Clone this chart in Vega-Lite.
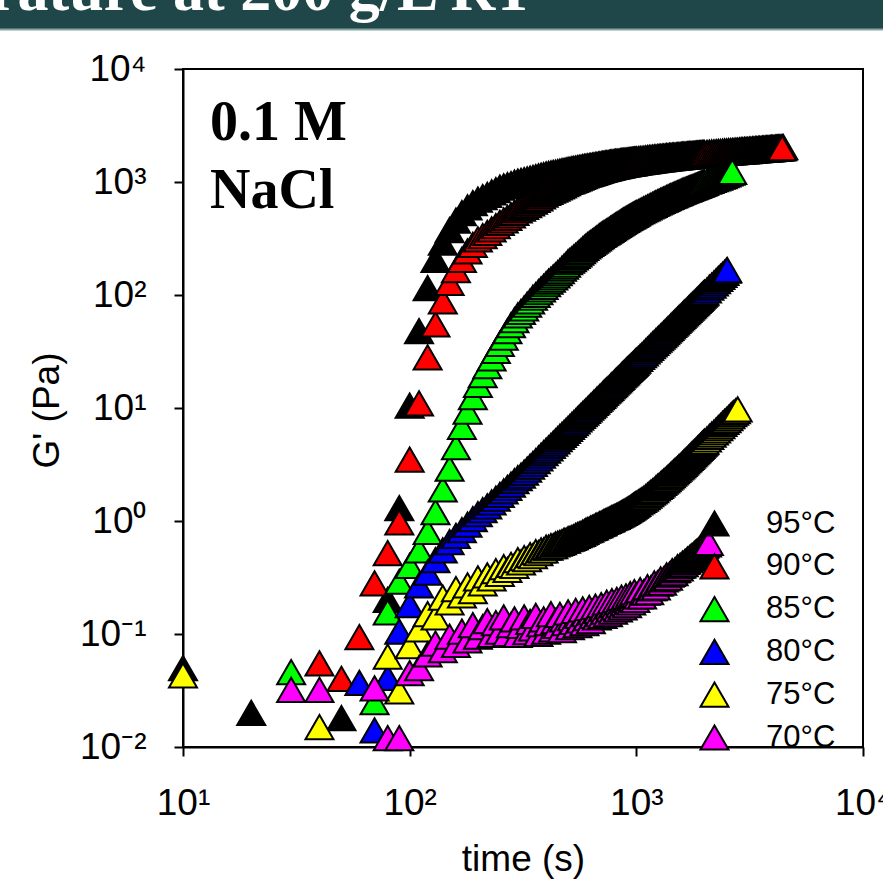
{
"$schema": "https://vega.github.io/schema/vega-lite/v6.json",
"autosize": {"type": "none"},
"padding": {"left": 183, "top": 69, "right": 20, "bottom": 135},
"width": 680,
"height": 678,
"background": "white",
"view": {"stroke": "black", "strokeWidth": 2, "fill": "white"},
"config": {"font": "Liberation Sans", "axis": {"labelFont": "Liberation Sans", "titleFont": "Liberation Sans"}},
"datasets": {
"c95": [{"t":10,"g":0.05},{"t":20,"g":0.02},{"t":50,"g":0.018},{"t":80,"g":0.2},{"t":90,"g":1.3},{"t":100,"g":10.5},{"t":110,"g":48},{"t":120,"g":115},{"t":130,"g":205},{"t":140,"g":290},{"t":150,"g":375},{"t":160,"g":455},{"t":170,"g":530},{"t":180,"g":595},{"t":190,"g":650},{"t":200,"g":700},{"t":210,"g":734},{"t":220,"g":770},{"t":230,"g":808},{"t":240,"g":848},{"t":250,"g":890},{"t":260,"g":913},{"t":270,"g":936},{"t":280,"g":960},{"t":290,"g":985},{"t":300,"g":1010},{"t":310,"g":1025},{"t":320,"g":1040},{"t":330,"g":1056},{"t":340,"g":1071},{"t":350,"g":1087},{"t":360,"g":1103},{"t":370,"g":1120},{"t":380,"g":1136},{"t":390,"g":1153},{"t":400,"g":1170},{"t":410,"g":1181},{"t":420,"g":1191},{"t":430,"g":1202},{"t":440,"g":1213},{"t":450,"g":1224},{"t":460,"g":1235},{"t":470,"g":1246},{"t":480,"g":1257},{"t":490,"g":1268},{"t":500,"g":1280},{"t":510,"g":1289},{"t":520,"g":1298},{"t":530,"g":1306},{"t":540,"g":1315},{"t":550,"g":1324},{"t":560,"g":1333},{"t":570,"g":1342},{"t":580,"g":1351},{"t":590,"g":1360},{"t":600,"g":1370},{"t":610,"g":1377},{"t":620,"g":1384},{"t":630,"g":1391},{"t":640,"g":1398},{"t":650,"g":1405},{"t":660,"g":1412},{"t":670,"g":1419},{"t":680,"g":1426},{"t":690,"g":1433},{"t":700,"g":1440},{"t":710,"g":1446},{"t":720,"g":1452},{"t":730,"g":1458},{"t":740,"g":1464},{"t":750,"g":1470},{"t":760,"g":1476},{"t":770,"g":1482},{"t":780,"g":1488},{"t":790,"g":1494},{"t":800,"g":1500},{"t":810,"g":1505},{"t":820,"g":1509},{"t":830,"g":1514},{"t":840,"g":1518},{"t":850,"g":1523},{"t":860,"g":1527},{"t":870,"g":1532},{"t":880,"g":1536},{"t":890,"g":1541},{"t":900,"g":1545},{"t":910,"g":1549},{"t":920,"g":1553},{"t":930,"g":1557},{"t":940,"g":1561},{"t":950,"g":1565},{"t":960,"g":1569},{"t":970,"g":1573},{"t":980,"g":1577},{"t":990,"g":1581},{"t":1000,"g":1585},{"t":1020,"g":1592},{"t":1040,"g":1598},{"t":1060,"g":1605},{"t":1080,"g":1611},{"t":1100,"g":1618},{"t":1120,"g":1624},{"t":1140,"g":1631},{"t":1160,"g":1637},{"t":1180,"g":1644},{"t":1200,"g":1650},{"t":1220,"g":1655},{"t":1240,"g":1660},{"t":1260,"g":1665},{"t":1280,"g":1670},{"t":1300,"g":1675},{"t":1320,"g":1680},{"t":1340,"g":1685},{"t":1360,"g":1690},{"t":1380,"g":1695},{"t":1400,"g":1700},{"t":1420,"g":1704},{"t":1440,"g":1708},{"t":1460,"g":1712},{"t":1480,"g":1716},{"t":1500,"g":1720},{"t":1520,"g":1724},{"t":1540,"g":1728},{"t":1560,"g":1732},{"t":1580,"g":1736},{"t":1600,"g":1740},{"t":1620,"g":1744},{"t":1640,"g":1747},{"t":1660,"g":1751},{"t":1680,"g":1754},{"t":1700,"g":1758},{"t":1720,"g":1761},{"t":1740,"g":1765},{"t":1760,"g":1768},{"t":1780,"g":1772},{"t":1800,"g":1775},{"t":1820,"g":1778},{"t":1840,"g":1781},{"t":1860,"g":1784},{"t":1880,"g":1787},{"t":1900,"g":1790},{"t":1920,"g":1793},{"t":1940,"g":1796},{"t":1960,"g":1799},{"t":1980,"g":1802},{"t":2000,"g":1805},{"t":2050,"g":1812},{"t":2100,"g":1818},{"t":2150,"g":1825},{"t":2200,"g":1831},{"t":2250,"g":1838},{"t":2300,"g":1844},{"t":2350,"g":1851},{"t":2400,"g":1857},{"t":2450,"g":1864},{"t":2500,"g":1870},{"t":2550,"g":1875},{"t":2600,"g":1880},{"t":2650,"g":1885},{"t":2700,"g":1890},{"t":2750,"g":1895},{"t":2800,"g":1900},{"t":2850,"g":1905},{"t":2900,"g":1910},{"t":2950,"g":1915},{"t":3000,"g":1920},{"t":3050,"g":1925},{"t":3100,"g":1929},{"t":3150,"g":1934},{"t":3200,"g":1938},{"t":3250,"g":1943},{"t":3300,"g":1947},{"t":3350,"g":1952},{"t":3400,"g":1956},{"t":3450,"g":1961},{"t":3500,"g":1965},{"t":3550,"g":1969},{"t":3600,"g":1973},{"t":3650,"g":1977},{"t":3700,"g":1981},{"t":3750,"g":1985},{"t":3800,"g":1989},{"t":3850,"g":1993},{"t":3900,"g":1997},{"t":3950,"g":2001},{"t":4000,"g":2005},{"t":4050,"g":2009},{"t":4100,"g":2012},{"t":4150,"g":2016},{"t":4200,"g":2019},{"t":4250,"g":2023},{"t":4300,"g":2026},{"t":4350,"g":2030},{"t":4400,"g":2033},{"t":4450,"g":2037}],
"c90": [{"t":40,"g":0.055},{"t":50,"g":0.04},{"t":60,"g":0.094},{"t":70,"g":0.28},{"t":80,"g":0.52},{"t":90,"g":0.97},{"t":100,"g":3.5},{"t":110,"g":11},{"t":120,"g":28},{"t":130,"g":55},{"t":140,"g":88},{"t":150,"g":128},{"t":160,"g":166},{"t":170,"g":205},{"t":180,"g":243},{"t":190,"g":278},{"t":200,"g":310},{"t":210,"g":332},{"t":220,"g":355},{"t":230,"g":380},{"t":240,"g":407},{"t":250,"g":435},{"t":260,"g":458},{"t":270,"g":481},{"t":280,"g":506},{"t":290,"g":532},{"t":300,"g":560},{"t":310,"g":580},{"t":320,"g":601},{"t":330,"g":623},{"t":340,"g":646},{"t":350,"g":669},{"t":360,"g":693},{"t":370,"g":718},{"t":380,"g":745},{"t":390,"g":772},{"t":400,"g":800},{"t":410,"g":818},{"t":420,"g":837},{"t":430,"g":856},{"t":440,"g":875},{"t":450,"g":894},{"t":460,"g":914},{"t":470,"g":935},{"t":480,"g":956},{"t":490,"g":978},{"t":500,"g":1000},{"t":510,"g":1015},{"t":520,"g":1030},{"t":530,"g":1046},{"t":540,"g":1061},{"t":550,"g":1077},{"t":560,"g":1093},{"t":570,"g":1110},{"t":580,"g":1126},{"t":590,"g":1143},{"t":600,"g":1160},{"t":610,"g":1171},{"t":620,"g":1183},{"t":630,"g":1195},{"t":640,"g":1206},{"t":650,"g":1218},{"t":660,"g":1230},{"t":670,"g":1243},{"t":680,"g":1255},{"t":690,"g":1268},{"t":700,"g":1280},{"t":710,"g":1289},{"t":720,"g":1298},{"t":730,"g":1307},{"t":740,"g":1316},{"t":750,"g":1325},{"t":760,"g":1334},{"t":770,"g":1343},{"t":780,"g":1352},{"t":790,"g":1361},{"t":800,"g":1370},{"t":810,"g":1377},{"t":820,"g":1383},{"t":830,"g":1390},{"t":840,"g":1396},{"t":850,"g":1403},{"t":860,"g":1409},{"t":870,"g":1416},{"t":880,"g":1422},{"t":890,"g":1429},{"t":900,"g":1435},{"t":910,"g":1440},{"t":920,"g":1445},{"t":930,"g":1450},{"t":940,"g":1455},{"t":950,"g":1460},{"t":960,"g":1465},{"t":970,"g":1470},{"t":980,"g":1475},{"t":990,"g":1480},{"t":1000,"g":1485},{"t":1020,"g":1493},{"t":1040,"g":1501},{"t":1060,"g":1509},{"t":1080,"g":1517},{"t":1100,"g":1525},{"t":1120,"g":1533},{"t":1140,"g":1541},{"t":1160,"g":1549},{"t":1180,"g":1557},{"t":1200,"g":1565},{"t":1220,"g":1571},{"t":1240,"g":1577},{"t":1260,"g":1583},{"t":1280,"g":1589},{"t":1300,"g":1595},{"t":1320,"g":1601},{"t":1340,"g":1607},{"t":1360,"g":1613},{"t":1380,"g":1619},{"t":1400,"g":1625},{"t":1420,"g":1630},{"t":1440,"g":1634},{"t":1460,"g":1639},{"t":1480,"g":1643},{"t":1500,"g":1648},{"t":1520,"g":1652},{"t":1540,"g":1657},{"t":1560,"g":1661},{"t":1580,"g":1666},{"t":1600,"g":1670},{"t":1620,"g":1674},{"t":1640,"g":1678},{"t":1660,"g":1682},{"t":1680,"g":1686},{"t":1700,"g":1690},{"t":1720,"g":1694},{"t":1740,"g":1698},{"t":1760,"g":1702},{"t":1780,"g":1706},{"t":1800,"g":1710},{"t":1820,"g":1714},{"t":1840,"g":1717},{"t":1860,"g":1721},{"t":1880,"g":1724},{"t":1900,"g":1728},{"t":1920,"g":1731},{"t":1940,"g":1735},{"t":1960,"g":1738},{"t":1980,"g":1742},{"t":2000,"g":1745},{"t":2050,"g":1752},{"t":2100,"g":1759},{"t":2150,"g":1766},{"t":2200,"g":1773},{"t":2250,"g":1780},{"t":2300,"g":1787},{"t":2350,"g":1794},{"t":2400,"g":1801},{"t":2450,"g":1808},{"t":2500,"g":1815},{"t":2550,"g":1821},{"t":2600,"g":1826},{"t":2650,"g":1832},{"t":2700,"g":1837},{"t":2750,"g":1843},{"t":2800,"g":1848},{"t":2850,"g":1854},{"t":2900,"g":1859},{"t":2950,"g":1865},{"t":3000,"g":1870},{"t":3050,"g":1875},{"t":3100,"g":1880},{"t":3150,"g":1885},{"t":3200,"g":1890},{"t":3250,"g":1895},{"t":3300,"g":1900},{"t":3350,"g":1905},{"t":3400,"g":1910},{"t":3450,"g":1915},{"t":3500,"g":1920},{"t":3550,"g":1924},{"t":3600,"g":1928},{"t":3650,"g":1932},{"t":3700,"g":1936},{"t":3750,"g":1940},{"t":3800,"g":1944},{"t":3850,"g":1948},{"t":3900,"g":1952},{"t":3950,"g":1956},{"t":4000,"g":1960},{"t":4050,"g":1964},{"t":4100,"g":1969},{"t":4150,"g":1973},{"t":4200,"g":1978},{"t":4250,"g":1982},{"t":4300,"g":1986},{"t":4350,"g":1991},{"t":4400,"g":1995}],
"c85": [{"t":30,"g":0.046},{"t":70,"g":0.025},{"t":80,"g":0.155},{"t":90,"g":0.29},{"t":100,"g":0.4},{"t":110,"g":0.55},{"t":120,"g":0.8},{"t":130,"g":1.2},{"t":140,"g":1.9},{"t":150,"g":2.9},{"t":160,"g":4.5},{"t":170,"g":6.8},{"t":180,"g":9.3},{"t":190,"g":12.5},{"t":200,"g":16},{"t":210,"g":19.5},{"t":220,"g":23.5},{"t":230,"g":27.5},{"t":240,"g":32},{"t":250,"g":37},{"t":260,"g":42},{"t":270,"g":48},{"t":280,"g":54},{"t":290,"g":60},{"t":300,"g":66},{"t":310,"g":71},{"t":320,"g":76},{"t":330,"g":82},{"t":340,"g":88},{"t":350,"g":95},{"t":360,"g":100},{"t":370,"g":106},{"t":380,"g":112},{"t":390,"g":118},{"t":400,"g":125},{"t":410,"g":131},{"t":420,"g":137},{"t":430,"g":143},{"t":440,"g":149},{"t":450,"g":156},{"t":460,"g":163},{"t":470,"g":171},{"t":480,"g":178},{"t":490,"g":186},{"t":500,"g":195},{"t":510,"g":201},{"t":520,"g":208},{"t":530,"g":215},{"t":540,"g":222},{"t":550,"g":229},{"t":560,"g":237},{"t":570,"g":245},{"t":580,"g":253},{"t":590,"g":261},{"t":600,"g":270},{"t":610,"g":276},{"t":620,"g":283},{"t":630,"g":289},{"t":640,"g":296},{"t":650,"g":303},{"t":660,"g":310},{"t":670,"g":317},{"t":680,"g":325},{"t":690,"g":332},{"t":700,"g":340},{"t":710,"g":346},{"t":720,"g":352},{"t":730,"g":358},{"t":740,"g":364},{"t":750,"g":371},{"t":760,"g":377},{"t":770,"g":384},{"t":780,"g":391},{"t":790,"g":398},{"t":800,"g":405},{"t":810,"g":411},{"t":820,"g":418},{"t":830,"g":424},{"t":840,"g":431},{"t":850,"g":437},{"t":860,"g":444},{"t":870,"g":450},{"t":880,"g":457},{"t":890,"g":463},{"t":900,"g":470},{"t":910,"g":476},{"t":920,"g":482},{"t":930,"g":488},{"t":940,"g":494},{"t":950,"g":500},{"t":960,"g":506},{"t":970,"g":512},{"t":980,"g":518},{"t":990,"g":524},{"t":1000,"g":530},{"t":1020,"g":541},{"t":1040,"g":552},{"t":1060,"g":563},{"t":1080,"g":574},{"t":1100,"g":585},{"t":1120,"g":596},{"t":1140,"g":607},{"t":1160,"g":618},{"t":1180,"g":629},{"t":1200,"g":640},{"t":1220,"g":650},{"t":1240,"g":660},{"t":1260,"g":670},{"t":1280,"g":680},{"t":1300,"g":690},{"t":1320,"g":700},{"t":1340,"g":710},{"t":1360,"g":720},{"t":1380,"g":730},{"t":1400,"g":740},{"t":1420,"g":749},{"t":1440,"g":758},{"t":1460,"g":767},{"t":1480,"g":776},{"t":1500,"g":785},{"t":1520,"g":794},{"t":1540,"g":803},{"t":1560,"g":812},{"t":1580,"g":821},{"t":1600,"g":830},{"t":1620,"g":838},{"t":1640,"g":846},{"t":1660,"g":854},{"t":1680,"g":862},{"t":1700,"g":870},{"t":1720,"g":878},{"t":1740,"g":886},{"t":1760,"g":894},{"t":1780,"g":902},{"t":1800,"g":910},{"t":1820,"g":918},{"t":1840,"g":926},{"t":1860,"g":934},{"t":1880,"g":942},{"t":1900,"g":950},{"t":1920,"g":958},{"t":1940,"g":966},{"t":1960,"g":974},{"t":1980,"g":982},{"t":2000,"g":990},{"t":2050,"g":1008},{"t":2100,"g":1025},{"t":2150,"g":1043},{"t":2200,"g":1060},{"t":2250,"g":1078},{"t":2300,"g":1095},{"t":2350,"g":1113},{"t":2400,"g":1130},{"t":2450,"g":1150},{"t":2500,"g":1170},{"t":2550,"g":1190},{"t":2600,"g":1210},{"t":2650,"g":1230}],
"c80": [{"t":60,"g":0.037},{"t":70,"g":0.014},{"t":80,"g":0.041},{"t":90,"g":0.105},{"t":100,"g":0.18},{"t":110,"g":0.27},{"t":120,"g":0.35},{"t":130,"g":0.45},{"t":140,"g":0.55},{"t":150,"g":0.65},{"t":160,"g":0.74},{"t":170,"g":0.83},{"t":180,"g":0.93},{"t":190,"g":1.04},{"t":200,"g":1.15},{"t":210,"g":1.25},{"t":220,"g":1.35},{"t":230,"g":1.46},{"t":240,"g":1.58},{"t":250,"g":1.7},{"t":260,"g":1.83},{"t":270,"g":1.96},{"t":280,"g":2.1},{"t":290,"g":2.25},{"t":300,"g":2.4},{"t":310,"g":2.52},{"t":320,"g":2.68},{"t":330,"g":2.85},{"t":340,"g":3.03},{"t":350,"g":3.21},{"t":360,"g":3.39},{"t":370,"g":3.58},{"t":380,"g":3.78},{"t":390,"g":3.98},{"t":400,"g":4.19},{"t":410,"g":4.4},{"t":420,"g":4.62},{"t":430,"g":4.84},{"t":440,"g":5.07},{"t":450,"g":5.3},{"t":460,"g":5.54},{"t":470,"g":5.78},{"t":480,"g":6.03},{"t":490,"g":6.29},{"t":500,"g":6.55},{"t":510,"g":6.81},{"t":520,"g":7.08},{"t":530,"g":7.35},{"t":540,"g":7.63},{"t":550,"g":7.92},{"t":560,"g":8.21},{"t":570,"g":8.51},{"t":580,"g":8.81},{"t":590,"g":9.11},{"t":600,"g":9.42},{"t":610,"g":9.74},{"t":620,"g":10.1},{"t":630,"g":10.4},{"t":640,"g":10.7},{"t":650,"g":11.1},{"t":660,"g":11.4},{"t":670,"g":11.8},{"t":680,"g":12.1},{"t":690,"g":12.5},{"t":700,"g":12.8},{"t":710,"g":13.2},{"t":720,"g":13.6},{"t":730,"g":14},{"t":740,"g":14.3},{"t":750,"g":14.7},{"t":760,"g":15.1},{"t":770,"g":15.5},{"t":780,"g":15.9},{"t":790,"g":16.3},{"t":800,"g":16.8},{"t":810,"g":17.2},{"t":820,"g":17.6},{"t":830,"g":18},{"t":840,"g":18.5},{"t":850,"g":18.9},{"t":860,"g":19.4},{"t":870,"g":19.8},{"t":880,"g":20.3},{"t":890,"g":20.7},{"t":900,"g":21.2},{"t":910,"g":21.7},{"t":920,"g":22.2},{"t":930,"g":22.6},{"t":940,"g":23.1},{"t":950,"g":23.6},{"t":960,"g":24.1},{"t":970,"g":24.6},{"t":980,"g":25.1},{"t":990,"g":25.7},{"t":1000,"g":26.2},{"t":1020,"g":27.2},{"t":1040,"g":28.3},{"t":1060,"g":29.4},{"t":1080,"g":30.5},{"t":1100,"g":31.7},{"t":1120,"g":32.8},{"t":1140,"g":34},{"t":1160,"g":35.2},{"t":1180,"g":36.5},{"t":1200,"g":37.7},{"t":1220,"g":39},{"t":1240,"g":40.3},{"t":1260,"g":41.6},{"t":1280,"g":42.9},{"t":1300,"g":44.2},{"t":1320,"g":45.6},{"t":1340,"g":47},{"t":1360,"g":48.4},{"t":1380,"g":49.9},{"t":1400,"g":51.3},{"t":1420,"g":52.8},{"t":1440,"g":54.3},{"t":1460,"g":55.8},{"t":1480,"g":57.3},{"t":1500,"g":58.9},{"t":1520,"g":60.5},{"t":1540,"g":62.1},{"t":1560,"g":63.7},{"t":1580,"g":65.4},{"t":1600,"g":67},{"t":1620,"g":68.7},{"t":1640,"g":70.4},{"t":1660,"g":72.1},{"t":1680,"g":73.9},{"t":1700,"g":75.7},{"t":1720,"g":77.5},{"t":1740,"g":79.3},{"t":1760,"g":81.1},{"t":1780,"g":82.9},{"t":1800,"g":84.8},{"t":1820,"g":86.7},{"t":1840,"g":88.6},{"t":1860,"g":90.6},{"t":1880,"g":92.5},{"t":1900,"g":94.5},{"t":1920,"g":96.5},{"t":1940,"g":98.5},{"t":1960,"g":101},{"t":1980,"g":103},{"t":2000,"g":105},{"t":2050,"g":110},{"t":2100,"g":116},{"t":2150,"g":121},{"t":2200,"g":127},{"t":2250,"g":133},{"t":2300,"g":139},{"t":2350,"g":145},{"t":2400,"g":151},{"t":2450,"g":157},{"t":2500,"g":164},{"t":2520,"g":166}],
"c75": [{"t":10,"g":0.043},{"t":40,"g":0.015},{"t":80,"g":0.063},{"t":90,"g":0.031},{"t":100,"g":0.078},{"t":110,"g":0.11},{"t":120,"g":0.15},{"t":130,"g":0.14},{"t":140,"g":0.21},{"t":150,"g":0.19},{"t":160,"g":0.25},{"t":170,"g":0.22},{"t":180,"g":0.27},{"t":190,"g":0.24},{"t":200,"g":0.31},{"t":210,"g":0.28},{"t":220,"g":0.33},{"t":230,"g":0.31},{"t":240,"g":0.36},{"t":250,"g":0.34},{"t":260,"g":0.39},{"t":270,"g":0.37},{"t":280,"g":0.41},{"t":290,"g":0.4},{"t":300,"g":0.45},{"t":310,"g":0.43},{"t":320,"g":0.47},{"t":330,"g":0.46},{"t":340,"g":0.5},{"t":350,"g":0.49},{"t":360,"g":0.53},{"t":370,"g":0.52},{"t":380,"g":0.55},{"t":390,"g":0.55},{"t":400,"g":0.58},{"t":410,"g":0.58},{"t":420,"g":0.6},{"t":430,"g":0.6},{"t":440,"g":0.62},{"t":450,"g":0.63},{"t":460,"g":0.64},{"t":470,"g":0.65},{"t":480,"g":0.67},{"t":490,"g":0.67},{"t":500,"g":0.69},{"t":510,"g":0.7},{"t":520,"g":0.71},{"t":530,"g":0.72},{"t":540,"g":0.74},{"t":550,"g":0.75},{"t":560,"g":0.76},{"t":570,"g":0.77},{"t":580,"g":0.79},{"t":590,"g":0.8},{"t":600,"g":0.82},{"t":610,"g":0.83},{"t":620,"g":0.84},{"t":630,"g":0.86},{"t":640,"g":0.87},{"t":650,"g":0.88},{"t":660,"g":0.9},{"t":670,"g":0.91},{"t":680,"g":0.92},{"t":690,"g":0.94},{"t":700,"g":0.95},{"t":710,"g":0.96},{"t":720,"g":0.98},{"t":730,"g":0.99},{"t":740,"g":1},{"t":750,"g":1.02},{"t":760,"g":1.03},{"t":770,"g":1.04},{"t":780,"g":1.06},{"t":790,"g":1.07},{"t":800,"g":1.08},{"t":810,"g":1.09},{"t":820,"g":1.11},{"t":830,"g":1.12},{"t":840,"g":1.14},{"t":850,"g":1.15},{"t":860,"g":1.17},{"t":870,"g":1.18},{"t":880,"g":1.2},{"t":890,"g":1.21},{"t":900,"g":1.23},{"t":910,"g":1.25},{"t":920,"g":1.27},{"t":930,"g":1.28},{"t":940,"g":1.3},{"t":950,"g":1.32},{"t":960,"g":1.34},{"t":970,"g":1.36},{"t":980,"g":1.38},{"t":990,"g":1.4},{"t":1000,"g":1.42},{"t":1020,"g":1.46},{"t":1040,"g":1.5},{"t":1060,"g":1.54},{"t":1080,"g":1.58},{"t":1100,"g":1.63},{"t":1120,"g":1.68},{"t":1140,"g":1.73},{"t":1160,"g":1.78},{"t":1180,"g":1.83},{"t":1200,"g":1.88},{"t":1220,"g":1.94},{"t":1240,"g":2},{"t":1260,"g":2.05},{"t":1280,"g":2.11},{"t":1300,"g":2.17},{"t":1320,"g":2.23},{"t":1340,"g":2.29},{"t":1360,"g":2.35},{"t":1380,"g":2.42},{"t":1400,"g":2.48},{"t":1420,"g":2.55},{"t":1440,"g":2.62},{"t":1460,"g":2.69},{"t":1480,"g":2.76},{"t":1500,"g":2.83},{"t":1520,"g":2.9},{"t":1540,"g":2.98},{"t":1560,"g":3.05},{"t":1580,"g":3.13},{"t":1600,"g":3.21},{"t":1620,"g":3.29},{"t":1640,"g":3.37},{"t":1660,"g":3.45},{"t":1680,"g":3.53},{"t":1700,"g":3.62},{"t":1720,"g":3.7},{"t":1740,"g":3.79},{"t":1760,"g":3.88},{"t":1780,"g":3.97},{"t":1800,"g":4.06},{"t":1820,"g":4.15},{"t":1840,"g":4.24},{"t":1860,"g":4.34},{"t":1880,"g":4.43},{"t":1900,"g":4.53},{"t":1920,"g":4.63},{"t":1940,"g":4.73},{"t":1960,"g":4.83},{"t":1980,"g":4.93},{"t":2000,"g":5.03},{"t":2050,"g":5.28},{"t":2100,"g":5.54},{"t":2150,"g":5.8},{"t":2200,"g":6.07},{"t":2250,"g":6.35},{"t":2300,"g":6.63},{"t":2350,"g":6.92},{"t":2400,"g":7.22},{"t":2450,"g":7.52},{"t":2500,"g":7.83},{"t":2550,"g":8.15},{"t":2600,"g":8.48},{"t":2650,"g":8.81},{"t":2700,"g":9.1},{"t":2750,"g":9.4},{"t":2800,"g":9.7}],
"c70": [{"t":30,"g":0.032},{"t":40,"g":0.032},{"t":70,"g":0.033},{"t":80,"g":0.012},{"t":90,"g":0.012},{"t":100,"g":0.045},{"t":110,"g":0.05},{"t":120,"g":0.066},{"t":130,"g":0.082},{"t":140,"g":0.072},{"t":150,"g":0.095},{"t":160,"g":0.08},{"t":170,"g":0.105},{"t":180,"g":0.088},{"t":190,"g":0.12},{"t":200,"g":0.095},{"t":210,"g":0.115},{"t":220,"g":0.13},{"t":230,"g":0.098},{"t":240,"g":0.125},{"t":250,"g":0.105},{"t":260,"g":0.14},{"t":270,"g":0.1},{"t":280,"g":0.12},{"t":290,"g":0.135},{"t":300,"g":0.098},{"t":310,"g":0.118},{"t":320,"g":0.14},{"t":330,"g":0.104},{"t":340,"g":0.128},{"t":350,"g":0.112},{"t":360,"g":0.145},{"t":370,"g":0.1},{"t":380,"g":0.122},{"t":390,"g":0.135},{"t":400,"g":0.105},{"t":410,"g":0.125},{"t":420,"g":0.15},{"t":430,"g":0.11},{"t":440,"g":0.13},{"t":450,"g":0.118},{"t":460,"g":0.148},{"t":470,"g":0.108},{"t":480,"g":0.135},{"t":490,"g":0.125},{"t":500,"g":0.155},{"t":510,"g":0.115},{"t":520,"g":0.138},{"t":530,"g":0.128},{"t":540,"g":0.16},{"t":550,"g":0.12},{"t":560,"g":0.145},{"t":570,"g":0.132},{"t":580,"g":0.165},{"t":590,"g":0.125},{"t":600,"g":0.15},{"t":610,"g":0.138},{"t":620,"g":0.17},{"t":630,"g":0.13},{"t":640,"g":0.155},{"t":650,"g":0.145},{"t":660,"g":0.175},{"t":670,"g":0.14},{"t":680,"g":0.16},{"t":690,"g":0.15},{"t":700,"g":0.18},{"t":710,"g":0.145},{"t":720,"g":0.168},{"t":730,"g":0.158},{"t":740,"g":0.19},{"t":750,"g":0.15},{"t":760,"g":0.175},{"t":770,"g":0.165},{"t":780,"g":0.195},{"t":790,"g":0.158},{"t":800,"g":0.18},{"t":810,"g":0.172},{"t":820,"g":0.2},{"t":830,"g":0.165},{"t":840,"g":0.19},{"t":850,"g":0.18},{"t":860,"g":0.21},{"t":870,"g":0.172},{"t":880,"g":0.195},{"t":890,"g":0.188},{"t":900,"g":0.215},{"t":910,"g":0.18},{"t":920,"g":0.2},{"t":930,"g":0.195},{"t":940,"g":0.225},{"t":950,"g":0.19},{"t":960,"g":0.21},{"t":970,"g":0.205},{"t":980,"g":0.235},{"t":990,"g":0.2},{"t":1000,"g":0.22},{"t":1020,"g":0.215},{"t":1040,"g":0.245},{"t":1060,"g":0.215},{"t":1080,"g":0.235},{"t":1100,"g":0.232},{"t":1120,"g":0.26},{"t":1140,"g":0.235},{"t":1160,"g":0.255},{"t":1180,"g":0.255},{"t":1200,"g":0.28},{"t":1220,"g":0.258},{"t":1240,"g":0.28},{"t":1260,"g":0.28},{"t":1280,"g":0.305},{"t":1300,"g":0.285},{"t":1320,"g":0.305},{"t":1340,"g":0.31},{"t":1360,"g":0.33},{"t":1380,"g":0.315},{"t":1400,"g":0.335},{"t":1420,"g":0.34},{"t":1440,"g":0.36},{"t":1460,"g":0.345},{"t":1480,"g":0.365},{"t":1500,"g":0.37},{"t":1520,"g":0.39},{"t":1540,"g":0.38},{"t":1560,"g":0.4},{"t":1580,"g":0.405},{"t":1600,"g":0.42},{"t":1620,"g":0.415},{"t":1640,"g":0.435},{"t":1660,"g":0.44},{"t":1680,"g":0.455},{"t":1700,"g":0.455},{"t":1720,"g":0.47},{"t":1740,"g":0.48},{"t":1760,"g":0.49},{"t":1780,"g":0.495},{"t":1800,"g":0.51},{"t":1820,"g":0.52},{"t":1840,"g":0.53},{"t":1860,"g":0.535},{"t":1880,"g":0.55},{"t":1900,"g":0.56},{"t":1920,"g":0.57},{"t":1940,"g":0.58},{"t":1960,"g":0.59},{"t":1980,"g":0.6},{"t":2000,"g":0.61},{"t":2050,"g":0.62},{"t":2090,"g":0.64}],
"banner": [{"label": "Temperature at 200 g/L RT"}],
"note": [{"label": "0.1 M\nNaCl"}]
},
"layer": [
{"data": {"name": "c95"}, "mark": {"type": "point", "shape": "triangle-up", "filled": true, "size": 784, "stroke": "black", "strokeWidth": 2, "opacity": 1},
"encoding": {
"x": {"field": "t", "type": "quantitative", "title": "time (s)",
"scale": {"type": "log", "domain": [10, 10000], "nice": false},
"axis": {"values": [10, 100, 1000, 10000], "labelExpr": "datum.value < 50 ? '10¹' : datum.value < 500 ? '10²' : datum.value < 5000 ? '10³' : '10⁴'", "grid": false, "domainColor": "black", "domainWidth": 2, "tickColor": "black", "tickWidth": 2, "tickSize": 9, "labelFontSize": 37, "labelColor": "black", "labelPadding": 29, "labelFlush": false, "labelOverlap": false, "titleFontSize": 37, "titleFontWeight": "normal", "titleColor": "black", "titlePadding": 20}},
"y": {"field": "g", "type": "quantitative", "title": "G' (Pa)",
"scale": {"type": "log", "domain": [0.01, 10000], "nice": false},
"axis": {"values": [0.01, 0.1, 1, 10, 100, 1000, 10000], "labelExpr": "datum.value < 0.05 ? '10⁻²' : datum.value < 0.5 ? '10⁻¹' : datum.value < 5 ? '10⁰' : datum.value < 50 ? '10¹' : datum.value < 500 ? '10²' : datum.value < 5000 ? '10³' : '10⁴'", "grid": false, "domainColor": "black", "domainWidth": 2, "tickColor": "black", "tickWidth": 2, "tickSize": 9, "labelFontSize": 37, "labelColor": "black", "labelPadding": 28, "labelFlush": false, "labelOverlap": false, "titleFontSize": 37, "titleFontWeight": "normal", "titleColor": "black", "titleX": -125, "titleY": 341, "titleBaseline": "alphabetic"}},
"color": {"datum": "95°C", "type": "nominal",
"scale": {"domain": ["95°C", "90°C", "85°C", "80°C", "75°C", "70°C"], "range": ["#000000", "#ff0000", "#00ff00", "#0000ff", "#ffff00", "#ff00ff"]},
"legend": {"title": null, "orient": "none", "legendX": 516, "legendY": 439, "padding": 0, "symbolType": "triangle-up", "symbolSize": 784, "symbolStrokeWidth": 2, "symbolStrokeColor": "black", "symbolOpacity": 1, "labelFontSize": 31, "labelFont": "Liberation Sans", "labelColor": "black", "labelOffset": 36, "rowPadding": 9.8, "labelLimit": 0,
"encode": {"symbols": {"update": {"stroke": {"value": "black"}, "strokeWidth": {"value": 2}}}}}}}},
{"data": {"name": "c90"}, "mark": {"type": "point", "shape": "triangle-up", "filled": true, "size": 784, "stroke": "black", "strokeWidth": 2, "opacity": 1}, "encoding": {"x": {"field": "t", "type": "quantitative", "title": "time (s)"}, "y": {"field": "g", "type": "quantitative", "title": "G' (Pa)"}, "color": {"datum": "90°C", "type": "nominal"}}},
{"data": {"name": "c85"}, "mark": {"type": "point", "shape": "triangle-up", "filled": true, "size": 784, "stroke": "black", "strokeWidth": 2, "opacity": 1}, "encoding": {"x": {"field": "t", "type": "quantitative", "title": "time (s)"}, "y": {"field": "g", "type": "quantitative", "title": "G' (Pa)"}, "color": {"datum": "85°C", "type": "nominal"}}},
{"data": {"name": "c80"}, "mark": {"type": "point", "shape": "triangle-up", "filled": true, "size": 784, "stroke": "black", "strokeWidth": 2, "opacity": 1}, "encoding": {"x": {"field": "t", "type": "quantitative", "title": "time (s)"}, "y": {"field": "g", "type": "quantitative", "title": "G' (Pa)"}, "color": {"datum": "80°C", "type": "nominal"}}},
{"data": {"name": "c75"}, "mark": {"type": "point", "shape": "triangle-up", "filled": true, "size": 784, "stroke": "black", "strokeWidth": 2, "opacity": 1}, "encoding": {"x": {"field": "t", "type": "quantitative", "title": "time (s)"}, "y": {"field": "g", "type": "quantitative", "title": "G' (Pa)"}, "color": {"datum": "75°C", "type": "nominal"}}},
{"data": {"name": "c70"}, "mark": {"type": "point", "shape": "triangle-up", "filled": true, "size": 784, "stroke": "black", "strokeWidth": 2, "opacity": 1}, "encoding": {"x": {"field": "t", "type": "quantitative", "title": "time (s)"}, "y": {"field": "g", "type": "quantitative", "title": "G' (Pa)"}, "color": {"datum": "70°C", "type": "nominal"}}},
{"data": {"name": "note"},
"mark": {"type": "text", "align": "left", "baseline": "alphabetic", "font": "Liberation Serif", "fontWeight": "bold", "fontSize": 56, "lineBreak": "\n", "lineHeight": 68, "color": "black"},
"encoding": {"x": {"datum": 13.15, "type": "quantitative"}, "y": {"datum": 2355, "type": "quantitative"}, "text": {"field": "label", "type": "nominal"}}},
{"data": {"name": "banner"}, "mark": {"type": "rect", "color": "#1f4749", "clip": false},
"encoding": {"x": {"datum": 1, "type": "quantitative"}, "x2": {"datum": 100000}, "y": {"datum": 1000000, "type": "quantitative"}, "y2": {"datum": 22590}}},
{"data": {"name": "banner"}, "mark": {"type": "rule", "color": "#86a3a4", "strokeWidth": 2, "clip": false},
"encoding": {"x": {"datum": 1, "type": "quantitative"}, "x2": {"datum": 100000}, "y": {"datum": 22370, "type": "quantitative"}}},
{"data": {"name": "banner"}, "mark": {"type": "text", "align": "right", "baseline": "alphabetic", "font": "Liberation Serif", "fontWeight": "bold", "fontSize": 62, "color": "white", "clip": false},
"encoding": {"x": {"datum": 355, "type": "quantitative"}, "y": {"datum": 33600, "type": "quantitative"}, "text": {"field": "label", "type": "nominal"}}}
]
}
